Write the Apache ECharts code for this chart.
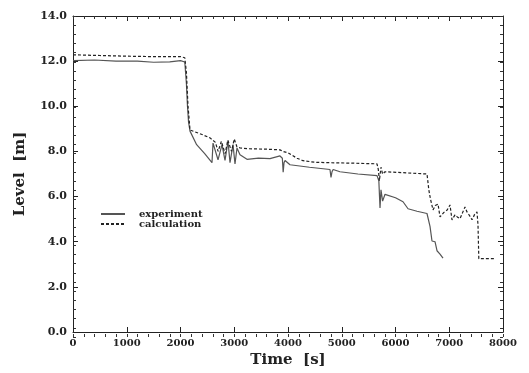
<!DOCTYPE html>
<html>
<head>
<meta charset="utf-8">
<script src="https://cdn.jsdelivr.net/npm/echarts@6/dist/echarts.min.js"></script>
<style>
html,body{margin:0;padding:0;background:#fff;}
#chart{width:529px;height:373px;}
</style>
</head>
<body>
<div id="chart"></div>
<script>
// ---- data ----
var seriesNames = ['experiment', 'calculation'];
var yTickLabels = ['0.0','2.0','4.0','6.0','8.0','10.0','12.0','14.0'];
var xTickLabels = ['0','1000','2000','3000','4000','5000','6000','7000','8000'];

var expTime  = [0, 400, 800, 1200, 1500, 1800, 2000, 2080, 2110, 2130, 2150, 2177, 2300, 2450, 2586, 2605, 2698, 2772, 2828, 2884, 2921, 2977, 3014, 3051, 3107, 3237, 3450, 3665, 3851, 3895, 3910, 3926, 3945, 4037, 4400, 4781, 4800, 4819, 4840, 4967, 5300, 5656, 5690, 5712, 5730, 5760, 5805, 5842, 6000, 6140, 6233, 6400, 6586, 6642, 6679, 6735, 6772, 6828, 6884];
var expLevel = [12.02, 12.05, 12.0, 12.0, 11.95, 11.97, 12.02, 11.96, 11.0, 10.0, 9.3, 8.9, 8.3, 7.9, 7.5, 8.37, 7.63, 8.3, 7.6, 8.45, 7.5, 8.3, 7.45, 8.15, 7.85, 7.65, 7.7, 7.68, 7.8, 7.7, 7.08, 7.5, 7.6, 7.41, 7.3, 7.2, 6.85, 7.1, 7.2, 7.1, 7.0, 6.93, 6.7, 5.5, 6.3, 5.8, 6.1, 6.06, 5.95, 5.77, 5.46, 5.35, 5.25, 4.68, 4.03, 4.0, 3.6, 3.45, 3.27];

var calcTime  = [0, 500, 1000, 1500, 2000, 2080, 2110, 2140, 2177, 2400, 2549, 2650, 2700, 2760, 2830, 2880, 2950, 3000, 3050, 3107, 3237, 3600, 3851, 3907, 4000, 4167, 4279, 4500, 4781, 5200, 5656, 5680, 5700, 5730, 5760, 5805, 6200, 6586, 6620, 6650, 6698, 6740, 6791, 6828, 6900, 6960, 7014, 7051, 7107, 7150, 7200, 7250, 7293, 7330, 7380, 7423, 7470, 7516, 7535, 7550, 7851];
var calcLevel = [12.28, 12.25, 12.22, 12.2, 12.2, 12.15, 11.5, 10.0, 8.95, 8.75, 8.6, 8.4, 8.0, 8.45, 7.9, 8.5, 8.0, 8.55, 8.2, 8.16, 8.12, 8.1, 8.07, 8.0, 7.94, 7.7, 7.59, 7.52, 7.5, 7.48, 7.45, 7.2, 6.7, 7.3, 7.0, 7.1, 7.05, 7.0, 6.3, 5.9, 5.41, 5.6, 5.67, 5.1, 5.3, 5.4, 5.63, 4.97, 5.19, 5.1, 5.02, 5.3, 5.54, 5.32, 5.15, 4.97, 5.2, 5.32, 4.75, 3.25, 3.25];

function zip(a, b) { return a.map(function (v, i) { return [v, b[i]]; }); }

var font = 'DejaVu Serif';
var chart = echarts.init(document.getElementById('chart'), null, {renderer: 'canvas'});

function axisBase(extra) {
  var base = {
    axisLine: {show: true, onZero: false, lineStyle: {color: '#222', width: 1}},
    axisTick: {show: true, inside: true, length: 5, lineStyle: {color: '#222', width: 1}},
    splitLine: {show: false}
  };
  for (var k in extra) base[k] = extra[k];
  return base;
}
function minorAxis(extra) {
  var base = {
    type: 'value', gridIndex: 1,
    axisLine: {show: false, onZero: false},
    axisTick: {show: true, inside: true, length: 3, lineStyle: {color: '#333', width: 1}},
    axisLabel: {show: false},
    splitLine: {show: false}
  };
  for (var k in extra) base[k] = extra[k];
  return base;
}
var gridRect = {left: 73, right: 26, top: 16, bottom: 36};

chart.setOption({
  animation: false,
  backgroundColor: '#fff',
  grid: [gridRect, gridRect],
  legend: {
    left: 95, top: 204, orient: 'vertical', itemWidth: 24, itemHeight: 8, itemGap: 0,
    data: seriesNames,
    itemStyle: {opacity: 0},
    textStyle: {fontFamily: font, fontWeight: 'bold', fontSize: 10, color: '#222', padding: [0, 0, 0, 9]}
  },
  xAxis: [
    axisBase({
      type: 'value', gridIndex: 0, min: 0, max: 8000, interval: 1000, position: 'bottom',
      name: 'Time  [s]', nameLocation: 'middle', nameGap: 21,
      nameTextStyle: {fontFamily: font, fontWeight: 'bold', fontSize: 15, color: '#222'},
      axisLabel: {margin: 6, fontFamily: font, fontWeight: 'bold', fontSize: 10, color: '#222',
        formatter: function (v) { return xTickLabels[Math.round(v / 1000)]; }}
    }),
    axisBase({
      type: 'value', gridIndex: 0, min: 0, max: 8000, interval: 1000, position: 'top',
      axisLabel: {show: false}
    }),
    minorAxis({min: 0, max: 8000, interval: 200, position: 'bottom'}),
    minorAxis({min: 0, max: 8000, interval: 200, position: 'top'})
  ],
  yAxis: [
    axisBase({
      type: 'value', gridIndex: 0, min: 0, max: 14, interval: 2, position: 'left',
      name: 'Level  [m]', nameLocation: 'middle', nameGap: 45, nameRotate: 90,
      nameTextStyle: {fontFamily: font, fontWeight: 'bold', fontSize: 15, color: '#222'},
      axisLabel: {margin: 6, fontFamily: font, fontWeight: 'bold', fontSize: 11, color: '#222',
        formatter: function (v) { return yTickLabels[Math.round(v / 2)]; }}
    }),
    axisBase({
      type: 'value', gridIndex: 0, min: 0, max: 14, interval: 2, position: 'right',
      axisLabel: {show: false}
    }),
    minorAxis({min: 0, max: 14, interval: 0.4, position: 'left'}),
    minorAxis({min: 0, max: 14, interval: 0.4, position: 'right'})
  ],
  series: [
    {
      name: seriesNames[0], type: 'line', xAxisIndex: 0, yAxisIndex: 0,
      data: zip(expTime, expLevel), symbol: 'none', showSymbol: false,
      lineStyle: {color: '#555', width: 1.2, type: 'solid'},
      itemStyle: {color: '#555'}
    },
    {
      name: seriesNames[1], type: 'line', xAxisIndex: 0, yAxisIndex: 0,
      data: zip(calcTime, calcLevel), symbol: 'none', showSymbol: false,
      lineStyle: {color: '#222', width: 1.2, type: [3, 2]},
      itemStyle: {color: '#222'}
    }
  ]
});
</script>
</body>
</html>
